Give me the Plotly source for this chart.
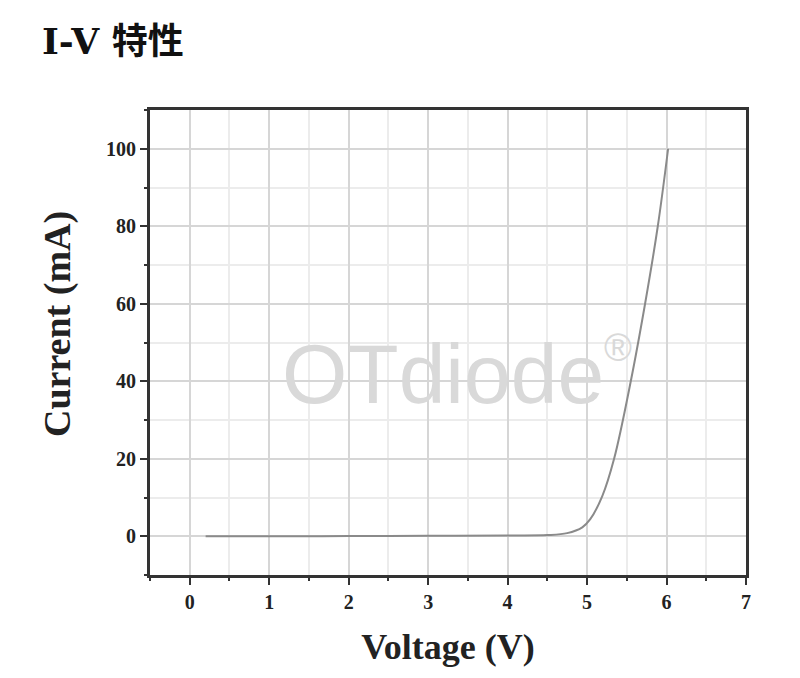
import plotly.graph_objects as go

# Data
voltage = [0.2, 1.0, 2.0, 3.0, 4.0, 4.5, 4.75, 4.94, 5.04, 5.19, 5.34, 5.55, 5.73, 5.89, 6.02]
current = [0.0, 0.0, 0.05, 0.1, 0.2, 0.3, 0.8, 2.3, 4.4, 10.3, 20.0, 40.0, 60.0, 80.0, 100.0]

x_ticks = [0, 1, 2, 3, 4, 5, 6, 7]
y_ticks = [0, 20, 40, 60, 80, 100]

title_text = "I-V 特性"
x_title = "Voltage (V)"
y_title = "Current (mA)"
watermark = "OTdiode"

# page body has an 8px margin; the figure is sized/offset to compensate
W, H = 792, 670
ML, MR, MT, MB = 142, 54, 102, 103
PW, PH = W - ML - MR, H - MT - MB

fig = go.Figure()
fig.add_trace(go.Scatter(
    x=voltage, y=current, mode="lines",
    line=dict(color="#8a8a8a", width=2, shape="spline", smoothing=1.0),
    showlegend=False, hoverinfo="skip",
))

tickfont = dict(family="Liberation Serif, Times New Roman, serif", size=20, color="#222222", weight="bold")

fig.update_xaxes(
    range=[-0.5, 7], tickvals=x_ticks, ticktext=[str(v) for v in x_ticks],
    showgrid=True, gridcolor="#d6d6d6", gridwidth=1.5,
    minor=dict(dtick=0.5, tick0=0, showgrid=True, gridcolor="#ececec", gridwidth=1.5,
               ticks="outside", ticklen=3, tickwidth=2, tickcolor="#333333"),
    ticks="outside", ticklen=7, tickwidth=2, tickcolor="#333333",
    showline=True, linecolor="#333333", linewidth=3, mirror=True,
    zeroline=False, tickfont=tickfont,
    title=dict(text=x_title, standoff=22,
               font=dict(family="Liberation Serif, Times New Roman, serif", size=36, color="#222222", weight="bold")),
)
fig.update_yaxes(
    range=[-10, 110], tickvals=y_ticks, ticktext=[str(v) for v in y_ticks],
    showgrid=True, gridcolor="#d6d6d6", gridwidth=1.5,
    minor=dict(dtick=10, tick0=0, showgrid=True, gridcolor="#ececec", gridwidth=1.5,
               ticks="outside", ticklen=3, tickwidth=2, tickcolor="#333333"),
    ticks="outside", ticklen=7, tickwidth=2, tickcolor="#333333",
    showline=True, linecolor="#333333", linewidth=3, mirror=True,
    zeroline=False, tickfont=tickfont,
)

# Y-axis title placed as a rotated annotation (sits above the plot centre in the reference)
fig.add_annotation(
    text=y_title, xref="paper", yref="paper", textangle=-90,
    x=(57 - 8 - ML) / PW, y=1 - (324 - 8 - MT) / PH, xanchor="center", yanchor="middle",
    showarrow=False,
    font=dict(family="Liberation Serif, Times New Roman, serif", size=38, color="#222222", weight="bold"),
)

# Watermark (positions in page pixels minus the 8px offset)
fig.add_annotation(
    text=watermark, xref="paper", yref="paper",
    x=(443 - 8 - ML) / PW, y=1 - (374 - 8 - MT) / PH, xanchor="center", yanchor="middle",
    showarrow=False, font=dict(family="Liberation Sans, Arial, sans-serif", size=84, color="#d9d9d9"),
)
fig.add_annotation(
    text="®", xref="paper", yref="paper",
    x=(618 - 8 - ML) / PW, y=1 - (348 - 8 - MT) / PH, xanchor="center", yanchor="middle",
    showarrow=False, font=dict(family="Liberation Sans, Arial, sans-serif", size=38, color="#d9d9d9"),
)

fig.update_layout(
    width=W, height=H,
    paper_bgcolor="white", plot_bgcolor="white",
    margin=dict(l=ML, r=MR, t=MT, b=MB),
    title=dict(text=title_text, x=34 / W, xanchor="left", xref="container",
               y=1 - 33 / H, yanchor="middle", yref="container",
               font=dict(family="DejaVu Serif, Noto Sans CJK SC, serif", size=36, color="#111111", weight="bold")),
)

fig.write_html("out.html")
